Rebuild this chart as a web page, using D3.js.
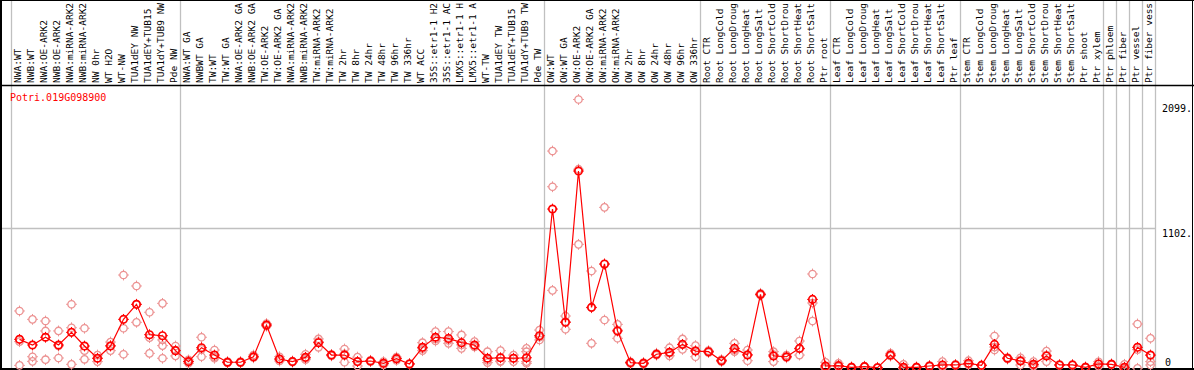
<!DOCTYPE html>
<html><head><meta charset="utf-8">
<script src="https://cdn.jsdelivr.net/npm/d3@7"></script>
<style>body{margin:0;background:#fff}svg{display:block}text{font-family:"DejaVu Sans Mono",monospace}</style>
</head><body><svg id="c" width="1194" height="370"></svg>
<script>
const geneName = "Potri.019G098900";
const categories = ["NWA:WT","NWB:WT","NWA:OE-ARK2","NWB:OE-ARK2","NWA:miRNA-ARK2","NWB:miRNA-ARK2","NW 0hr","WT H2O","WT-NW","TUA1dEY NW","TUA1dEY+TUB15 NW","TUA1dY+TUB9 NW","Pde NW",
"NWA:WT GA","NWBWT GA","TW:WT","TW:WT GA","NWA:OE-ARK2 GA","NWB:OE-ARK2 GA","TW:OE-ARK2","TW:OE-ARK2 GA","NWA:miRNA-ARK2","NWB:miRNA-ARK2","TW:miRNA-ARK2","TW:miRNA-ARK2","TW 2hr","TW 8hr","TW 24hr","TW 48hr","TW 96hr","TW 336hr","WT ACC","35S::etr1-1 H2O","35S::etr1-1 ACC","LMX5::etr1-1 H2O","LMX5::etr1-1 ACC","WT-TW","TUA1dEY TW","TUA1dEY+TUB15 TW","TUA1dY+TUB9 TW","Pde TW",
"OW:WT","OW:WT GA","OW:OE-ARK2","OW:OE-ARK2 GA","OW:miRNA-ARK2","OW:miRNA-ARK2","OW 2hr","OW 8hr","OW 24hr","OW 48hr","OW 96hr","OW 336hr",
"Root CTR","Root LongCold","Root LongDrought","Root LongHeat","Root LongSalt","Root ShortCold","Root ShortDrought","Root ShortHeat","Root ShortSalt","Ptr root",
"Leaf CTR","Leaf LongCold","Leaf LongDrought","Leaf LongHeat","Leaf LongSalt","Leaf ShortCold","Leaf ShortDrought","Leaf ShortHeat","Leaf ShortSalt","Ptr leaf",
"Stem CTR","Stem LongCold","Stem LongDrought","Stem LongHeat","Stem LongSalt","Stem ShortCold","Stem ShortDrought","Stem ShortHeat","Stem ShortSalt","Ptr shoot","Ptr xylem",
"Ptr phloem","Ptr fiber","Ptr vessel","Ptr fiber vessel"];
const groupBreaks = [0,13,41,53,63,73,84,85,86,87,88];
const meanValues = [238,194,254,194,292,186,91,186,393,510,274,266,150,
65,173,116,60,60,103,349,85,65,98,212,116,116,65,70,52,88,47,176,254,245,212,194,91,95,91,95,266,
1249,370,1544,486,823,303,57,52,122,137,199,147,
142,72,168,116,587,109,103,168,548,31,
34,21,26,18,116,21,21,31,39,39,
52,36,199,91,70,44,109,39,39,21,47,
44,21,176,116];
const replicateValues = [[458,220,36],[393,103,67],[380,303,80],[303,93,186],[510,328,44],[324,83,150],[116,65,91],[217,150,190],[737,324,122],[652,370,508],[448,251,129],[517,233,189,91],[186,109,155],
[78,52,65],[254,103,160],[155,91,100],[60,55,65],[60,55,65],[116,95,100],[349,340,360],[103,70,85],[65,60,70],[122,90,80],[241,176,220],[116,110,120],[163,60,125],[31,65,100],[70,65,75],[65,40,52],[100,88,75],[47,45,50],[212,150,166],[298,225,240],[298,207,230],[272,168,195],[220,180,185],[142,57,75],[150,65,70],[116,65,91],[168,142,65,52],[310,233,255],
[1699,1422,618],[419,316,375],[2099,975,1558],[768,207,483],[1262,388,820],[354,246,310],[57,50,64],[52,45,58],[122,115,130],[173,110,130],[241,160,196],[189,103,150],
[142,135,150],[72,65,80],[207,142,155],[155,72,120],[587,580,595],[142,65,120],[116,95,100],[225,116,163],[745,380,520],[60,15,20],
[52,25,26],[21,18,24],[26,22,30],[18,15,21],[129,110,109],[44,10,10],[21,18,24],[31,28,34],[65,25,28],[39,35,43],
[72,40,44],[36,33,39],[264,155,178],[91,85,97],[95,39,76],[65,30,37],[147,65,115],[39,36,42],[39,36,42],[21,18,24],[47,30,64],
[44,40,48],[44,10,9],[357,13,158],[246,65,39,114]];
const yTickValues = [0,1102,2099];
const yTickLabels = ["0","1102.","2099."];

const svg = d3.select("#c");
const W = 1194, H = 370;
const x = d3.scaleLinear().domain([0, categories.length]).range([11, 1155]);
const y = d3.scaleLinear().domain([0, 2099]).range([370, 99.5]);
const px = i => x(i + 0.5) + 2;
const maxChars = 14;

svg.append("rect").attr("width", W).attr("height", H).attr("fill", "#fff");

// grid
svg.append("g").selectAll("line").data(groupBreaks).join("line")
  .attr("x1", d => Math.round(x(d)) + 0.5).attr("x2", d => Math.round(x(d)) + 0.5)
  .attr("y1", 0).attr("y2", H).attr("stroke", "#c0c0c0").attr("stroke-width", 1.3);
svg.append("line").attr("x1", 1).attr("x2", x(categories.length))
  .attr("y1", Math.round(y(1102)) + 0.5).attr("y2", Math.round(y(1102)) + 0.5)
  .attr("stroke", "#c0c0c0").attr("stroke-width", 1.3);

// header labels (clipped to the header height, as in the original)
svg.append("g").selectAll("text").data(categories).join("text")
  .attr("transform", (d, i) => `translate(${x(i) + 10},83) rotate(-90)`)
  .attr("font-size", "9.5px").attr("fill", "#000")
  .text(d => d.length > maxChars ? d.slice(0, maxChars).trimEnd() : d);

// borders
svg.append("line").attr("x1", 0).attr("x2", W).attr("y1", 85.5).attr("y2", 85.5).attr("stroke", "#000").attr("stroke-width", 1.5);
svg.append("line").attr("x1", 1).attr("x2", 1).attr("y1", 0).attr("y2", H).attr("stroke", "#000").attr("stroke-width", 2);
svg.append("line").attr("x1", 0).attr("x2", W).attr("y1", 369).attr("y2", 369).attr("stroke", "#000").attr("stroke-width", 2);
svg.append("line").attr("x1", 0).attr("x2", W).attr("y1", 0.5).attr("y2", 0.5).attr("stroke", "#000").attr("stroke-width", 1);
svg.append("line").attr("x1", 1192.5).attr("x2", 1192.5).attr("y1", 0).attr("y2", H).attr("stroke", "#000").attr("stroke-width", 1);

// title
svg.append("text").attr("x", 10).attr("y", 101).attr("font-size", "10px").attr("fill", "#ff0000").text(geneName);

// y labels
svg.append("g").selectAll("text").data(yTickValues).join("text")
  .attr("x", (d, i) => yTickLabels[i] === "0" ? 1165 : 1162)
  .attr("y", (d, i) => d === 0 ? 366 : (d === 2099 ? 112 : y(d) + 9))
  .attr("font-size", "10px").attr("fill", "#000").text((d, i) => yTickLabels[i]);

const spikes = "M0,-5.4V-3.7M0,3.7V5.4M-5.4,0H-3.7M3.7,0H5.4";
function marker(g, color, sw) {
  g.append("circle").attr("r", 3.7).attr("fill", "none").attr("stroke", color).attr("stroke-width", sw);
  g.append("path").attr("d", spikes).attr("stroke", color).attr("stroke-width", 1);
}

// replicates
const reps = [];
replicateValues.forEach((arr, i) => arr.forEach(v => reps.push({i, v})));
svg.append("g").selectAll("g").data(reps).join("g")
  .attr("transform", d => `translate(${px(d.i)},${y(d.v)})`)
  .each(function() { marker(d3.select(this), "#ec9292", 1.3); });

// mean line
svg.append("path").datum(meanValues)
  .attr("d", d3.line().x((d, i) => px(i)).y(d => y(d)))
  .attr("fill", "none").attr("stroke", "#ff0000").attr("stroke-width", 1.2);

// mean markers
svg.append("g").selectAll("g").data(meanValues).join("g")
  .attr("transform", (d, i) => `translate(${px(i)},${y(d)})`)
  .each(function() { marker(d3.select(this), "#ff0000", 1.7); });
</script></body></html>
